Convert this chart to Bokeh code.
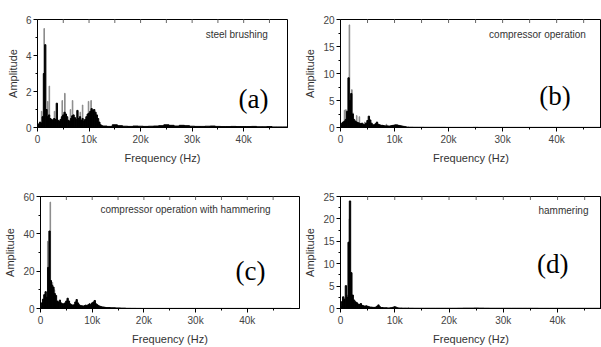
import math
from bokeh.plotting import figure
from bokeh.layouts import column, row
from bokeh.models import Label, FixedTicker, Range1d, NumeralTickFormatter
from bokeh.embed import file_html
from bokeh.resources import INLINE

# ---------------- data ----------------
LOW_FREQ_HZ = list(range(0, 12501, 250))        # 51 bins
TAIL_FREQ_HZ = list(range(13000, 48001, 1000))  # 36 bins

A_LOW = [0.15, 0.20, 0.30, 0.25, 0.60, 3.00, 4.60, 1.00, 0.60, 0.70,
         0.50, 0.45, 0.40, 0.50, 0.45, 1.35, 0.40, 0.35, 0.45, 0.60,
         0.70, 0.85, 0.75, 0.60, 0.40, 0.35, 0.50, 0.65, 0.70, 0.55,
         0.45, 0.95, 0.50, 0.60, 0.40, 0.50, 0.35, 0.45, 0.60, 0.75,
         0.80, 0.90, 1.05, 0.95, 1.00, 0.85, 0.70, 0.50, 0.30, 0.15,
         0.10]
A_TAIL = [0.08, 0.06, 0.15, 0.10, 0.07, 0.06, 0.08, 0.07, 0.06, 0.07,
          0.08, 0.10, 0.15, 0.12, 0.08, 0.12, 0.10, 0.07, 0.06, 0.06,
          0.07, 0.08, 0.06, 0.05, 0.05, 0.06, 0.05, 0.05, 0.05, 0.06,
          0.04, 0.04, 0.05, 0.03, 0.03, 0.03]
A_GREY_FREQ = [800, 1300, 2000, 2300, 3300, 4800, 5300, 6400, 6800, 8300, 8750, 9900, 10400]
A_GREY_AMP = [0.9, 5.5, 1.45, 2.3, 0.9, 1.5, 1.9, 1.0, 1.5, 0.85, 1.25, 1.45, 1.5]

B_LOW = [0.50, 0.80, 1.00, 1.20, 1.50, 3.00, 9.20, 5.00, 6.30, 2.50,
         1.50, 1.20, 1.00, 0.90, 0.80, 0.70, 0.80, 0.60, 0.50, 0.80,
         1.30, 2.10, 1.40, 0.80, 0.50, 0.50, 0.70, 1.00, 0.60, 0.50,
         0.40, 0.40, 0.35, 0.30, 0.30, 0.30, 0.25, 0.30, 0.35, 0.40,
         0.45, 0.50, 0.45, 0.40, 0.35, 0.30, 0.25, 0.20, 0.15, 0.10,
         0.05]
B_TAIL = [0.05, 0.04, 0.04, 0.03, 0.03, 0.03, 0.03, 0.02, 0.02, 0.02,
          0.02, 0.02, 0.03, 0.02, 0.02, 0.02, 0.02, 0.02, 0.02, 0.02,
          0.02, 0.02, 0.02, 0.02, 0.02, 0.02, 0.02, 0.02, 0.02, 0.02,
          0.02, 0.02, 0.02, 0.02, 0.02, 0.02]
B_GREY_FREQ = [750, 1000, 1650, 2100, 2300, 3000, 3500, 4500, 8500, 10500]
B_GREY_AMP = [3.2, 3.3, 19.0, 7.0, 2.7, 2.2, 2.0, 1.0, 0.6, 0.5]

C_LOW = [1.0, 3.0, 5.0, 7.4, 9.0, 6.0, 22.0, 41.5, 15.0, 12.5,
         11.5, 8.0, 7.0, 4.0, 3.5, 4.5, 3.0, 2.5, 2.5, 3.0,
         4.0, 5.5, 4.0, 2.5, 2.0, 1.8, 2.0, 3.5, 4.8, 3.0,
         2.0, 1.5, 1.5, 1.2, 1.5, 1.8, 1.5, 2.0, 2.5, 2.0,
         3.0, 3.5, 4.3, 2.5, 2.0, 1.5, 1.2, 1.0, 0.8, 0.8,
         0.6]
C_TAIL = [0.5, 0.4, 0.3, 0.2, 0.1, 0.08, 0.06, 0.05, 0.05, 0.05,
          0.05, 0.05, 0.05, 0.05, 0.05, 0.05, 0.05, 0.05, 0.05, 0.05,
          0.05, 0.05, 0.05, 0.05, 0.05, 0.05, 0.05, 0.05, 0.05, 0.05,
          0.05, 0.05, 0.05, 0.05, 0.05, 0.05]
C_GREY_FREQ = [1400, 1900, 2300, 2700]
C_GREY_AMP = [36.0, 57.0, 14.0, 10.0]

D_LOW = [0.5, 1.5, 2.6, 2.0, 5.1, 2.5, 14.8, 24.0, 8.0, 3.0,
         1.9, 1.5, 1.3, 1.0, 0.9, 1.1, 0.7, 0.6, 0.5, 0.6,
         0.5, 0.4, 0.3, 0.3, 0.25, 0.25, 0.3, 0.5, 0.8, 0.4,
         0.2, 0.2, 0.15, 0.15, 0.15, 0.12, 0.12, 0.15, 0.2, 0.3,
         0.4, 0.3, 0.15, 0.12, 0.1, 0.1, 0.08, 0.08, 0.08, 0.08,
         0.08]
D_TAIL = [0.06, 0.05, 0.05, 0.05, 0.05, 0.05, 0.05, 0.05, 0.05, 0.06,
          0.08, 0.08, 0.10, 0.08, 0.06, 0.05, 0.05, 0.05, 0.05, 0.05,
          0.05, 0.05, 0.05, 0.05, 0.04, 0.04, 0.04, 0.04, 0.04, 0.04,
          0.04, 0.04, 0.04, 0.04, 0.04, 0.04]
D_GREY_FREQ = [700, 1200, 1650]
D_GREY_AMP = [2.2, 3.0, 20.0]

X_TICKS = [0, 10000, 20000, 30000, 40000]
X_MINOR = [5000, 15000, 25000, 35000, 45000]
TOP_TICKS = [5000, 10000, 15000, 20000, 25000, 30000, 35000, 40000, 45000]

FONT = "Liberation Sans"


def panel(low, tail, gfreq, gamp, ymax, yticks, yminor, xend, caption, cap_xy, tag, tag_xy,
          width, height, borders, label_standoff):
    bl, br, bt, bb = borders
    p = figure(width=width, height=height, output_backend="svg", toolbar_location=None,
               x_range=Range1d(0, xend), y_range=Range1d(0, ymax),
               min_border_left=bl, min_border_right=br, min_border_top=bt, min_border_bottom=bb)
    p.grid.visible = False
    p.outline_line_color = "black"
    p.outline_line_width = 1
    p.background_fill_color = "white"
    p.border_fill_color = "white"

    p.vbar(x=gfreq, top=gamp, width=110, color="#8c8c8c")
    p.vbar(x=LOW_FREQ_HZ, top=low, width=250, color="black")
    p.vbar(x=TAIL_FREQ_HZ, top=tail, width=1000, color="black")
    # small inward tick marks along the top edge
    p.scatter(x=TOP_TICKS, y=[ymax] * len(TOP_TICKS), marker="dash", angle=math.pi / 2,
              size=7, line_color="#666666", line_width=1)

    xa = p.xaxis[0]
    xa.ticker = FixedTicker(ticks=X_TICKS, minor_ticks=X_MINOR)
    xa.formatter = NumeralTickFormatter(format="0a")
    xa.axis_label = "Frequency (Hz)"
    ya = p.yaxis[0]
    ya.ticker = FixedTicker(ticks=yticks, minor_ticks=yminor)
    ya.axis_label = "Amplitude"
    for ax in (xa, ya):
        ax.axis_label_text_font = FONT
        ax.axis_label_text_font_style = "normal"
        ax.axis_label_text_font_size = "11px"
        ax.axis_label_text_color = "#333333"
        ax.major_label_text_font = FONT
        ax.major_label_text_font_size = "10px"
        ax.major_label_text_color = "#444444"
        ax.major_tick_out = 4
        ax.major_tick_in = 0
        ax.minor_tick_out = 2
        ax.minor_tick_in = 0
        ax.axis_line_color = "black"
        ax.major_label_standoff = 2
    xa.axis_label_standoff = label_standoff
    ya.axis_label_standoff = 4

    p.add_layout(Label(x=cap_xy[0], y=cap_xy[1], text=caption, text_align="right",
                       text_baseline="middle", text_font=FONT, text_font_size="10px",
                       text_color="#333333"))
    p.add_layout(Label(x=tag_xy[0], y=tag_xy[1], text=tag, text_align="right",
                       text_baseline="middle", text_font="Liberation Serif",
                       text_font_size="27px", text_color="black"))
    return p


pa = panel(A_LOW, A_TAIL, A_GREY_FREQ, A_GREY_AMP, 6, [0, 2, 4, 6], [1, 3, 5], 48500,
           "steel brushing", (44700, 5.17), "(a)", (44800, 1.6), 300, 175, (37, 13, 18, 48), 4)
pb = panel(B_LOW, B_TAIL, B_GREY_FREQ, B_GREY_AMP, 20, [0, 5, 10, 15, 20], [2.5, 7.5, 12.5, 17.5],
           48300, "compressor operation", (45400, 17.3), "(b)", (42600, 5.9), 301, 175,
           (40, 0, 19, 45), 4)
pc = panel(C_LOW, C_TAIL, C_GREY_FREQ, C_GREY_AMP, 60, [0, 20, 40, 60], [10, 30, 50], 50100,
           "compressor operation with hammering", (44500, 52.8), "(c)", (43500, 20.2), 300, 172,
           (40, 1, 20, 36), 4)
pd_ = panel(D_LOW, D_TAIL, D_GREY_FREQ, D_GREY_AMP, 25, [0, 5, 10, 15, 20, 25],
            [2.5, 7.5, 12.5, 17.5, 22.5], 48100, "hammering", (45700, 21.8), "(d)", (42000, 9.9),
            301, 172, (40, 0, 21, 35), 4)

layout = column(row(pa, pb, spacing=0), row(pc, pd_, spacing=0), spacing=0)

open("out.html", "w").write(file_html(layout, INLINE))
